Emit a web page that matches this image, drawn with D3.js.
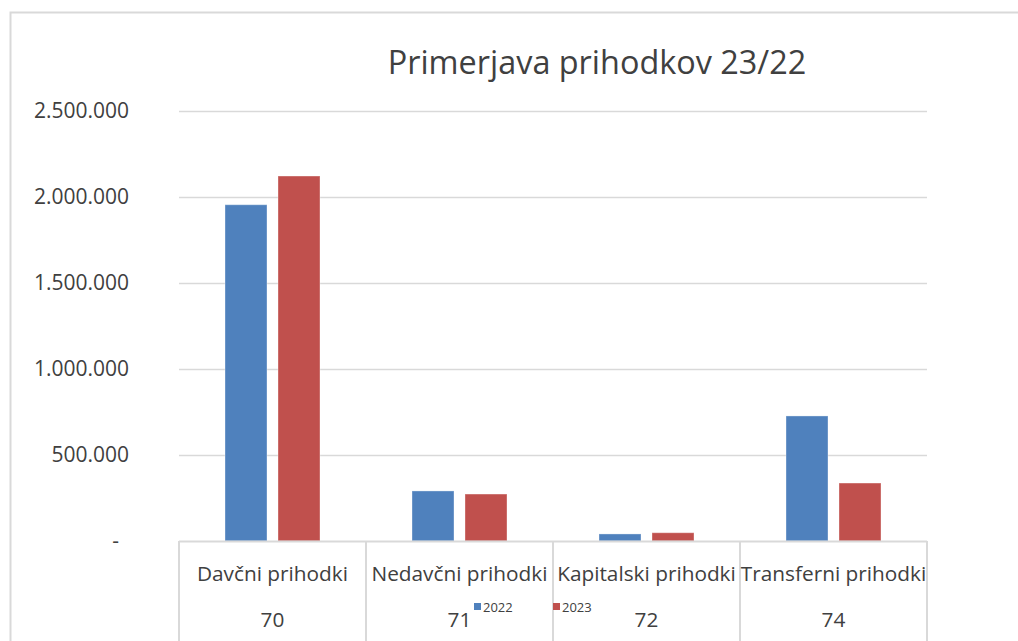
<!DOCTYPE html>
<html>
<head>
<meta charset="utf-8">
<script src="https://cdn.jsdelivr.net/npm/d3@7"></script>
<style>
  body { margin: 0; background: #fff; }
  svg { display: block; font-family: "Open Sans", "Noto Sans", sans-serif; }
</style>
</head>
<body>
<svg id="chart" width="1018" height="641"></svg>
<script>
// data
const categories = ["Davčni prihodki", "Nedavčni prihodki", "Kapitalski prihodki", "Transferni prihodki"];
const codes = ["70", "71", "72", "74"];
const years = ["2022", "2023"];
const values2022 = [1955000, 291000, 41000, 727000];
const values2023 = [2122000, 273000, 48000, 337000];
const yTicks = [0, 500000, 1000000, 1500000, 2000000, 2500000];
const colors = ["#4f81bd", "#c0504d"];

const svg = d3.select("#chart");
const width = 1018, height = 641;
const margin = {left: 179, right: 91, top: 111, bottom: 100};

// chart frame
svg.append("path")
    .attr("d", `M10.5,${height} V12.5 H${width}`)
    .attr("fill", "none")
    .attr("stroke", "#d9d9d9")
    .attr("stroke-width", 2);

svg.append("text")
    .attr("x", 597).attr("y", 74)
    .attr("text-anchor", "middle")
    .attr("font-size", 32.4)
    .attr("fill", "#404040")
    .text("Primerjava prihodkov 23/22");

const x = d3.scaleBand()
    .domain(categories)
    .range([margin.left, width - margin.right]);

const xInner = d3.scaleBand()
    .domain(years)
    .range([0, x.bandwidth()])
    .paddingInner(0.2075)
    .paddingOuter(0.868);

const y = d3.scaleLinear()
    .domain([0, 2500000])
    .range([height - margin.bottom, margin.top]);

// accounting style: zero shows as a dash, dots as thousands separators
const fmt = v => v === 0 ? "-" : d3.format(",")(v).replace(/,/g, ".");

// gridlines
svg.append("g")
    .selectAll("line")
    .data(yTicks.filter(d => d > 0))
    .join("line")
    .attr("x1", margin.left).attr("x2", width - margin.right)
    .attr("y1", d => Math.round(y(d)) + 0.5).attr("y2", d => Math.round(y(d)) + 0.5)
    .attr("stroke", "#d9d9d9")
    .attr("stroke-width", 1.5);

// y labels
svg.append("g")
    .selectAll("text")
    .data(yTicks)
    .join("text")
    .attr("x", d => d === 0 ? 119 : 129)
    .attr("y", d => y(d))
    .attr("dy", "0.35em")
    .attr("text-anchor", "end")
    .attr("font-size", 21)
    .attr("fill", "#404040")
    .text(fmt);

// bars
const series = [values2022, values2023];
const groups = svg.append("g")
    .selectAll("g")
    .data(categories)
    .join("g")
    .attr("transform", d => `translate(${x(d)},0)`);

groups.selectAll("rect")
    .data((d, i) => years.map((yr, j) => ({yr, v: series[j][i], j})))
    .join("rect")
    .attr("x", d => xInner(d.yr))
    .attr("width", xInner.bandwidth())
    .attr("y", d => y(d.v))
    .attr("height", d => y(0) - y(d.v))
    .attr("fill", d => colors[d.j])
    .attr("stroke", "#ffffff")
    .attr("stroke-opacity", 0.35)
    .attr("stroke-width", 1);

// category axis (multi level)
const axis = svg.append("g");
axis.append("line")
    .attr("x1", margin.left).attr("x2", width - margin.right)
    .attr("y1", y(0) + 0.5).attr("y2", y(0) + 0.5)
    .attr("stroke", "#d9d9d9").attr("stroke-width", 2);

axis.selectAll("line.sep")
    .data(categories.concat(["end"]))
    .join("line")
    .attr("class", "sep")
    .attr("x1", (d, i) => margin.left + i * x.bandwidth())
    .attr("x2", (d, i) => margin.left + i * x.bandwidth())
    .attr("y1", y(0))
    .attr("y2", height)
    .attr("stroke", "#d9d9d9").attr("stroke-width", 2);

axis.selectAll("text.cat")
    .data(categories)
    .join("text")
    .attr("class", "cat")
    .attr("x", d => x(d) + x.bandwidth() / 2)
    .attr("y", 581)
    .attr("text-anchor", "middle")
    .attr("font-size", 20.8)
    .attr("fill", "#404040")
    .text(d => d);

axis.selectAll("text.code")
    .data(codes)
    .join("text")
    .attr("class", "code")
    .attr("x", (d, i) => x(categories[i]) + x.bandwidth() / 2)
    .attr("y", 627)
    .attr("text-anchor", "middle")
    .attr("font-size", 20.8)
    .attr("fill", "#404040")
    .text(d => d);

// legend
const legend = svg.append("g")
    .selectAll("g")
    .data(years)
    .join("g")
    .attr("transform", (d, i) => `translate(${474 + i * 79},603)`);
legend.append("rect")
    .attr("width", 7).attr("height", 7)
    .attr("fill", (d, i) => colors[i]);
legend.append("text")
    .attr("x", 9).attr("y", 8.5)
    .attr("font-size", 13)
    .attr("fill", "#404040")
    .text(d => d);
</script>
</body>
</html>
